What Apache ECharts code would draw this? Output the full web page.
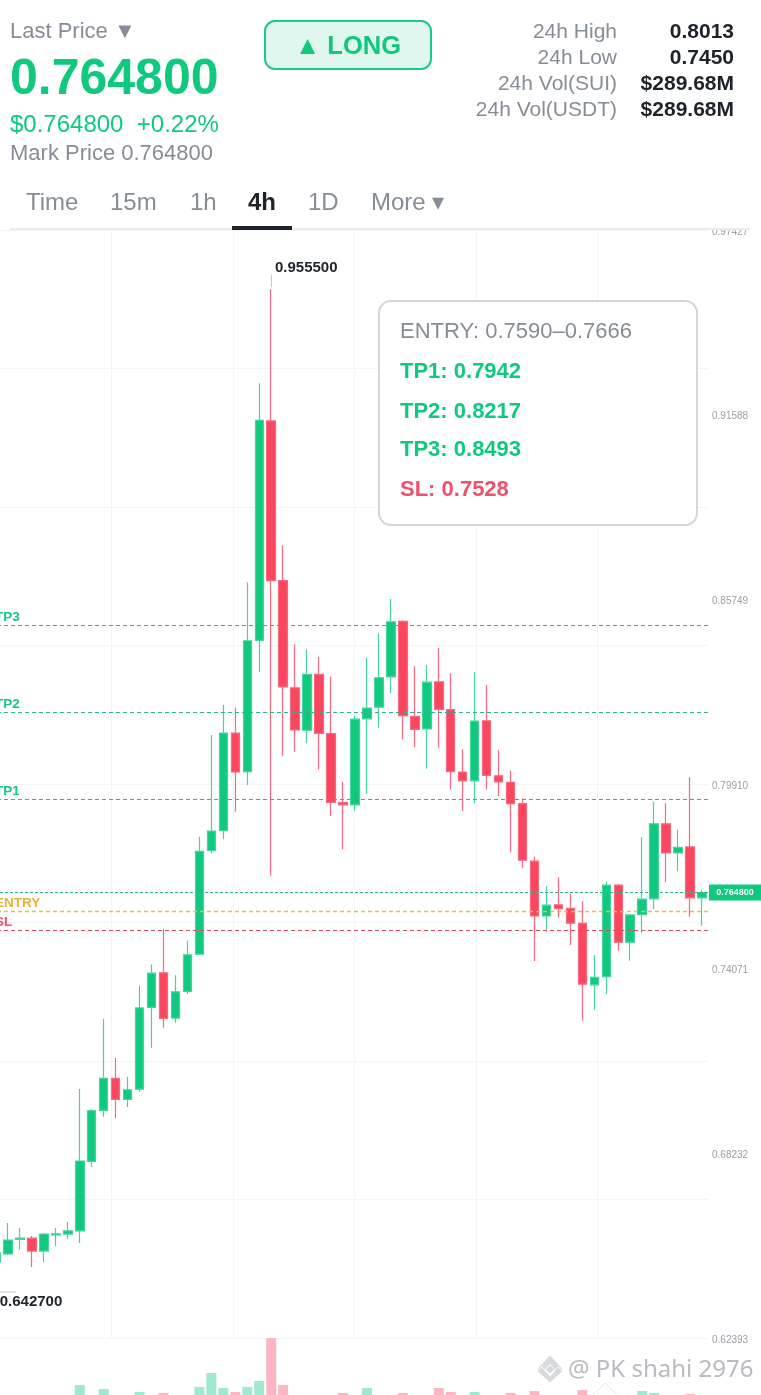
<!DOCTYPE html>
<html><head><meta charset="utf-8">
<style>html,body{margin:0;padding:0;background:#fff;overflow:hidden}#c{width:761px;height:1395px}</style>
<script src="https://cdn.jsdelivr.net/npm/echarts@6/dist/echarts.min.js"></script>
</head><body><div id="c"></div>
<script>
// [open, close, low, high]
const candles = [
[.6480,.6508,.6467,.6518],[.6505,.6549,.6502,.6603],[.6551,.6555,.6518,.6587],[.6555,.6514,.6464,.6562],
[.6514,.6568,.6480,.6571],[.6565,.6569,.6530,.6587],[.6568,.6578,.6552,.6606],[.6578,.6799,.6540,.7027],
[.6798,.6958,.6780,.6963],[.6959,.7060,.6939,.7249],[.7060,.6994,.6935,.7125],[.6994,.7024,.6970,.7065],
[.7026,.7283,.7018,.7353],[.7285,.7393,.7157,.7420],[.7394,.7250,.7220,.7533],[.7251,.7334,.7236,.7386],
[.7335,.7451,.7327,.7495],[.7453,.7778,.7450,.7824],[.7780,.7842,.7772,.8146],[.7844,.8152,.7816,.8241],
[.8152,.8029,.7903,.8233],[.8030,.8444,.7988,.8629],[.8445,.9141,.8345,.9258],[.9139,.8634,.7701,.9555],
[.8634,.8298,.8080,.8746],[.8295,.8162,.8093,.8433],[.8161,.8338,.8121,.8417],[.8338,.8151,.8037,.8393],
[.8150,.7933,.7890,.8331],[.7932,.7925,.7785,.7997],[.7925,.8196,.7906,.8206],[.8197,.8231,.7959,.8391],
[.8234,.8327,.8169,.8468],[.8330,.8504,.8278,.8576],[.8505,.8207,.8132,.8509],[.8205,.8164,.8107,.8363],
[.8165,.8313,.8039,.8367],[.8314,.8227,.8106,.8421],[.8226,.8030,.7973,.8341],[.8029,.8001,.7906,.8101],
[.8001,.8190,.7930,.8344],[.8191,.8018,.7974,.8304],[.8017,.7998,.7953,.8098],[.7996,.7929,.7775,.8033],
[.7929,.7750,.7726,.7946],[.7747,.7574,.7431,.7761],[.7574,.7608,.7524,.7668],[.7609,.7597,.7569,.7696],
[.7598,.7551,.7482,.7643],[.7550,.7358,.7243,.7620],[.7356,.7380,.7277,.7450],[.7382,.7671,.7326,.7682],
[.7671,.7491,.7464,.7675],[.7491,.7577,.7432,.7580],[.7578,.7627,.7519,.7823],[.7628,.7865,.7595,.7936],
[.7865,.7773,.7681,.7930],[.7773,.7791,.7715,.7846],[.7792,.7631,.7571,.8012],[.7631,.7648,.7543,.7656]
];
const volumes = [38,36,34,36,35,33,36,55,42,51,40,38,48,44,47,40,42,53,67,52,48,53,59,102,55,40,38,36,38,47,40,52,40,38,47,40,38,52,48,38,48,40,38,47,38,49,40,36,38,50,38,40,42,38,49,47,38,45,46,38];
const categories = candles.map((_, i) => String(i));
const priceTicks = [0.62393,0.68232,0.74071,0.79910,0.85749,0.91588,0.97427];
const levels = [
  {name:'TP3', value:0.8493, color:'#2fb38a', text:'#18c488'},
  {name:'TP2', value:0.8217, color:'#2fb38a', text:'#18c488'},
  {name:'TP1', value:0.7942, color:'#2fb38a', text:'#18c488'},
  {name:'ENTRY', value:0.7590, color:'#eebc45', text:'#e6b23c'},
  {name:'SL', value:0.7528, color:'#d94c62', text:'#f0506a'}
];
const lastPrice = 0.7648, highPrice = 0.9555;
const GREEN='#10C97F', RED='#FB4660', GRAY='#868D96', DARK='#1E2329', FONT='"Liberation Sans", Arial, sans-serif';

const txt=(t,x,y,fill,font,align)=>({type:'text',z:101,style:{text:t,x,y,fill,font:font+' '+FONT,textAlign:align||'left',textVerticalAlign:'middle'}});
const poly=(pts,o)=>({type:'polygon',z:60,shape:{points:pts},style:Object.assign({fill:'#d4d6da',stroke:'#fff',lineWidth:1,opacity:.9},o||{})});

const graphic=[
  {type:'rect',z:100,shape:{x:0,y:0,width:761,height:229.5},style:{fill:'#fff'}},
  {type:'rect',z:101,shape:{x:10,y:228,width:740,height:2},style:{fill:'#e9ebee'}},
  {type:'rect',z:102,shape:{x:232,y:226,width:60,height:4},style:{fill:DARK}},
  txt('Last Price ▼',10,31.5,GRAY,'400 22px'),
  txt('0.764800',10,80,GREEN,'700 50px'),
  txt('$0.764800  +0.22%',10,125.5,GREEN,'400 24px'),
  txt('Mark Price 0.764800',10,154,GRAY,'400 22px'),
  {type:'rect',z:101,shape:{x:265,y:21,width:166,height:48,r:10},style:{fill:'#DFF7EE',stroke:'#1CC98C',lineWidth:2}},
  txt('▲ LONG',348,47,GREEN,'700 25.5px','center'),
  txt('24h High',617,32.5,GRAY,'400 21px','right'),
  txt('24h Low',617,58.5,GRAY,'400 21px','right'),
  txt('24h Vol(SUI)',617,84.5,GRAY,'400 21px','right'),
  txt('24h Vol(USDT)',617,110.5,GRAY,'400 21px','right'),
  txt('0.8013',734,32.5,DARK,'700 21px','right'),
  txt('0.7450',734,58.5,DARK,'700 21px','right'),
  txt('$289.68M',734,84.5,DARK,'700 21px','right'),
  txt('$289.68M',734,110.5,DARK,'700 21px','right'),
  txt('Time',26,203.5,GRAY,'400 24px'),
  txt('15m',110,203.5,GRAY,'400 24px'),
  txt('1h',190,203.5,GRAY,'400 24px'),
  txt('4h',248,203.5,DARK,'700 24px'),
  txt('1D',308,203.5,GRAY,'400 24px'),
  txt('More ▾',371,203.5,GRAY,'400 24px'),
  {type:'rect',z:90,shape:{x:379,y:301,width:318,height:224,r:12},style:{fill:'#fff',stroke:'#d3d6da',lineWidth:2}},
  txt('ENTRY: 0.7590–0.7666',400,331.5,GRAY,'400 22px'),
  txt('TP1: 0.7942',400,371.5,GREEN,'700 22px'),
  txt('TP2: 0.8217',400,411.5,GREEN,'700 22px'),
  txt('TP3: 0.8493',400,449.5,GREEN,'700 22px'),
  txt('SL: 0.7528',400,489.5,'#F0506A','700 22px'),
  {type:'line',z:60,shape:{x1:0,y1:1292,x2:16,y2:1292},style:{stroke:'#c5c8cc',lineWidth:1}},
  // watermark
  poly([[550,1355],[563,1369],[558,1374],[550,1365],[542,1374],[537,1369]]),
  poly([[550,1383],[537,1371],[542,1367],[550,1376],[558,1367],[563,1371]]),
  poly([[550,1365],[555,1369.5],[550,1374],[545,1369.5]]),
  poly([[605,1383],[618,1396],[592,1396]],{fill:'#fff',stroke:'#e3e5e8'}),
  {type:'text',z:60,style:{text:'@ PK shahi 2976',x:568,y:1370,fill:'#b4b7bc',font:'400 24px "Noto Sans", sans-serif',textVerticalAlign:'middle',stroke:'#fff',lineWidth:2,opacity:.95}}
];

const lineData = levels.map(l=>({yAxis:l.value,name:l.name,
  lineStyle:{color:l.color,type:[4,3],width:l.name==='ENTRY'?1.4:1},
  label:{show:true,position:'insideStartTop',distance:[5,1],formatter:l.name,color:l.text,fontFamily:FONT,fontWeight:700,fontSize:13.5}}));
lineData.push({yAxis:lastPrice,name:'last',lineStyle:{color:'#2fb38a',type:[3,2],width:1},
  label:{show:true,position:'end',distance:1,align:'left',formatter:'{a|'+lastPrice.toFixed(6)+'}',padding:0,
    rich:{a:{color:'#fff',fontFamily:FONT,fontWeight:700,fontSize:9,backgroundColor:GREEN,width:52,height:16,lineHeight:16,align:'center'}}}});
lineData.push([{coord:['23',0.9601],lineStyle:{color:'#c5c8cc',type:'solid',width:1},label:{show:false}},{coord:['23',0.9562]}]);

const chart=echarts.init(document.getElementById('c'),null,{renderer:'canvas'});
chart.setOption({
  animation:false,backgroundColor:'#fff',graphic,
  grid:[
    {left:-10,top:230,width:718,height:1108,outerBoundsMode:'none'},
    {left:-10,top:1338,width:718,height:102,outerBoundsMode:'none'}
  ],
  xAxis:[
    {type:'category',gridIndex:0,data:categories,show:false,boundaryGap:true},
    {type:'value',gridIndex:0,min:0,max:718,interval:121.5,axisLine:{show:false},axisTick:{show:false},axisLabel:{show:false},
      splitLine:{show:true,showMaxLine:false,showMinLine:false,lineStyle:{color:'#f3f4f6',width:1}}},
    {type:'category',gridIndex:1,data:categories,show:false,boundaryGap:true}
  ],
  yAxis:[
    {type:'value',gridIndex:0,position:'right',min:0.62393,max:0.97427,axisLine:{show:false},axisTick:{show:false},splitLine:{show:false},
      axisLabel:{show:true,customValues:priceTicks,margin:4,verticalAlign:'top',lineHeight:4,color:'#9a9fa6',fontFamily:FONT,fontSize:10,formatter:v=>v.toFixed(5)}},
    {type:'value',gridIndex:0,position:'right',min:0,max:8,interval:1,axisLine:{show:false},axisTick:{show:false},axisLabel:{show:false},
      splitLine:{show:true,lineStyle:{color:'#f3f4f6',width:1}}},
    {type:'value',gridIndex:1,min:0,max:102,show:false,splitLine:{show:false}}
  ],
  series:[
    {type:'candlestick',xAxisIndex:0,yAxisIndex:0,data:candles,barWidth:9,clip:true,
      itemStyle:{color:GREEN,color0:RED,borderColor:'#45d4a0',borderColor0:'#f8697d',borderWidth:1.2},
      markLine:{symbol:'none',silent:true,animation:false,precision:6,data:lineData},
      markPoint:{symbol:'circle',symbolSize:0,silent:true,animation:false,data:[
        {coord:['23',highPrice],label:{show:true,formatter:highPrice.toFixed(6),position:'inside',offset:[35,-22],color:DARK,fontFamily:FONT,fontWeight:700,fontSize:15}},
        {coord:['0',0.6385],label:{show:true,formatter:'0.642700',position:'inside',offset:[35,10],color:DARK,fontFamily:FONT,fontWeight:700,fontSize:15}}
      ]}},
    {type:'bar',xAxisIndex:2,yAxisIndex:2,barWidth:10,
      data:volumes.map((v,i)=>({value:v,itemStyle:{color:candles[i][1]>=candles[i][0]?'#A0E9D0':'#FDB5C1'}}))}
  ]
});
</script></body></html>
